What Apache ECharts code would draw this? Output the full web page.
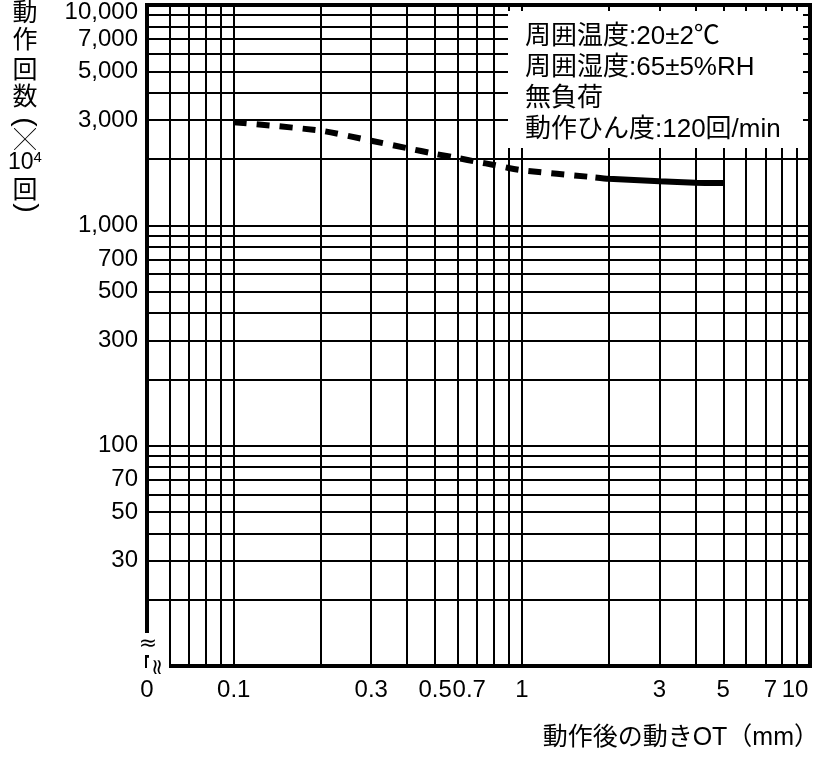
<!DOCTYPE html>
<html>
<head>
<meta charset="utf-8">
<script src="https://cdn.jsdelivr.net/npm/echarts@6/dist/echarts.min.js"></script>
<style>
  html, body { margin: 0; padding: 0; background: #fff; }
  #chart { width: 818px; height: 757px; }
</style>
</head>
<body>
<div id="chart"></div>
<script>
// 軸の目盛り・グリッド
const xGridValues = [0.06, 0.07, 0.08, 0.09, 0.1, 0.2, 0.3, 0.4, 0.5, 0.6, 0.7, 0.8, 0.9, 1, 2, 3, 4, 5, 6, 7, 8, 9, 10];
const xLabelValues = [0.05, 0.1, 0.3, 0.5, 0.7, 1, 3, 5, 7, 10];
const yGridValues = [20, 30, 40, 50, 60, 70, 80, 90, 100, 200, 300, 400, 500, 600, 700, 800, 900,
  1000, 2000, 3000, 4000, 5000, 6000, 7000, 8000, 9000, 10000];
const yLabelValues = [30, 50, 70, 100, 300, 500, 700, 1000, 3000, 5000, 7000, 10000];

// 動作後の動きOT(mm) / 動作回数(×10^4回)
const otDashed = [0.1, 0.2, 0.3, 0.4, 0.5, 0.6, 0.7, 0.8, 0.9, 1, 1.8];
const lifeDashed = [2940, 2690, 2420, 2240, 2110, 2020, 1940, 1880, 1820, 1778, 1650];
const otSolid = [1.8, 2, 3, 4, 5];
const lifeSolid = [1650, 1628, 1585, 1562, 1558];

const conditions = ['周囲温度:20±2℃', '周囲湿度:65±5%RH', '無負荷', '動作ひん度:120回/min'];

const FONT = '"Liberation Sans", "Noto Sans CJK JP", sans-serif';

const pairs = (xs, ys) => xs.map((x, i) => [x, ys[i]]);

const chart = echarts.init(document.getElementById('chart'), null, { renderer: 'canvas' });

function vText(t, y, size, rot) {
  return {
    type: 'text', z: 21, x: 25, y: y, rotation: rot || 0,
    style: { text: t, font: (size || 25) + 'px ' + FONT, fill: '#000', align: 'center', verticalAlign: 'middle' }
  };
}

const tickRich = {
  l7: { fontFamily: FONT, fontSize: 24, color: '#000', padding: [0, 16, 0, 0] },
  r7: { fontFamily: FONT, fontSize: 24, color: '#000', padding: [0, 0, 0, 10] },
  e: { fontFamily: FONT, fontSize: 24, color: '#000', padding: [0, 30, 0, 0] }
};

chart.setOption({
  animation: false,
  backgroundColor: '#fff',
  grid: {
    left: 147, right: 8, top: 5, bottom: 91,
    outerBoundsMode: 'none',
    show: true, borderColor: '#000', borderWidth: 4
  },
  xAxis: {
    type: 'log', logBase: 10, min: 0.05, max: 10,
    axisLine: { show: true, lineStyle: { color: '#000', width: 4 } },
    axisTick: { show: false, customValues: xGridValues },
    splitLine: { show: true, lineStyle: { color: '#000', width: 2 } },
    axisLabel: {
      customValues: xLabelValues,
      color: '#000', fontFamily: FONT, fontSize: 24, margin: 12,
      formatter: function (v) {
        const s = String(+v.toFixed(3));
        if (Math.abs(v - 0.05) < 1e-9) return '0';
        if (Math.abs(v - 0.7) < 1e-9) return '{l7|' + s + '}';
        if (Math.abs(v - 7) < 1e-9) return '{r7|' + s + '}';
        if (Math.abs(v - 10) < 1e-9) return '{e|' + s + '}';
        return s;
      },
      rich: tickRich
    }
  },
  yAxis: {
    type: 'log', logBase: 10, min: 10, max: 10000,
    axisLine: { show: true, lineStyle: { color: '#000', width: 4 } },
    axisTick: { show: false, customValues: yGridValues },
    splitLine: { show: true, lineStyle: { color: '#000', width: 2 } },
    axisLabel: {
      customValues: yLabelValues,
      color: '#000', fontFamily: FONT, fontSize: 24, margin: 9,
      formatter: function (v) {
        const s = Math.round(v).toLocaleString('en-US');
        return Math.round(v) === 10000 ? '{t|' + s + '}' : s;
      },
      rich: { t: { fontFamily: FONT, fontSize: 24, color: '#000', padding: [14, 0, 0, 0] } }
    }
  },
  series: [
    {
      type: 'line', data: pairs(otDashed, lifeDashed),
      showSymbol: false, smooth: 0.2, z: 5,
      lineStyle: { color: '#000', width: 6, type: [13, 10], cap: 'butt' }
    },
    {
      type: 'line', data: pairs(otSolid, lifeSolid),
      showSymbol: false, smooth: 0.2, z: 5,
      lineStyle: { color: '#000', width: 6, cap: 'butt' }
    }
  ],
  graphic: [
    // 条件ボックス
    { type: 'rect', z: 20, shape: { x: 508, y: 11, width: 295, height: 137 }, style: { fill: '#fff' } },
    {
      type: 'text', z: 21, x: 525, y: 21,
      style: { text: conditions.join('\n'), font: '26px ' + FONT, fill: '#000', lineHeight: 31 }
    },
    // 縦軸タイトル
    vText('動', 14),
    vText('作', 41),
    vText('回', 71),
    vText('数', 98),
    vText('(', 122, 28, -Math.PI / 2),
    vText('╳', 141, 22),
    {
      type: 'text', z: 21, x: 25, y: 163,
      style: {
        text: '10{s|4}', font: '23px ' + FONT, fill: '#000', align: 'center', verticalAlign: 'middle',
        rich: { s: { fontSize: 15, fontFamily: FONT, fill: '#000', verticalAlign: 'top', padding: [0, 0, 10, 0] } }
      }
    },
    vText('回', 191),
    vText('(', 208, 28, Math.PI / 2),
    // 横軸タイトル
    {
      type: 'text', z: 21, x: 819, y: 738,
      style: { text: '動作後の動きOT（mm）', font: '25px ' + FONT, fill: '#000', align: 'right', verticalAlign: 'middle' }
    },
    // 省略記号
    {
      type: 'text', z: 21, x: 148, y: 644,
      style: { text: '≈', font: '22px "DejaVu Sans", sans-serif', fill: '#000', align: 'center', verticalAlign: 'middle', backgroundColor: '#fff' }
    },
    {
      type: 'text', z: 21, x: 158, y: 667, rotation: Math.PI / 2,
      style: { text: '≈', font: '22px "DejaVu Sans", sans-serif', fill: '#000', align: 'center', verticalAlign: 'middle', backgroundColor: '#fff' }
    }
  ]
});
</script>
</body>
</html>
